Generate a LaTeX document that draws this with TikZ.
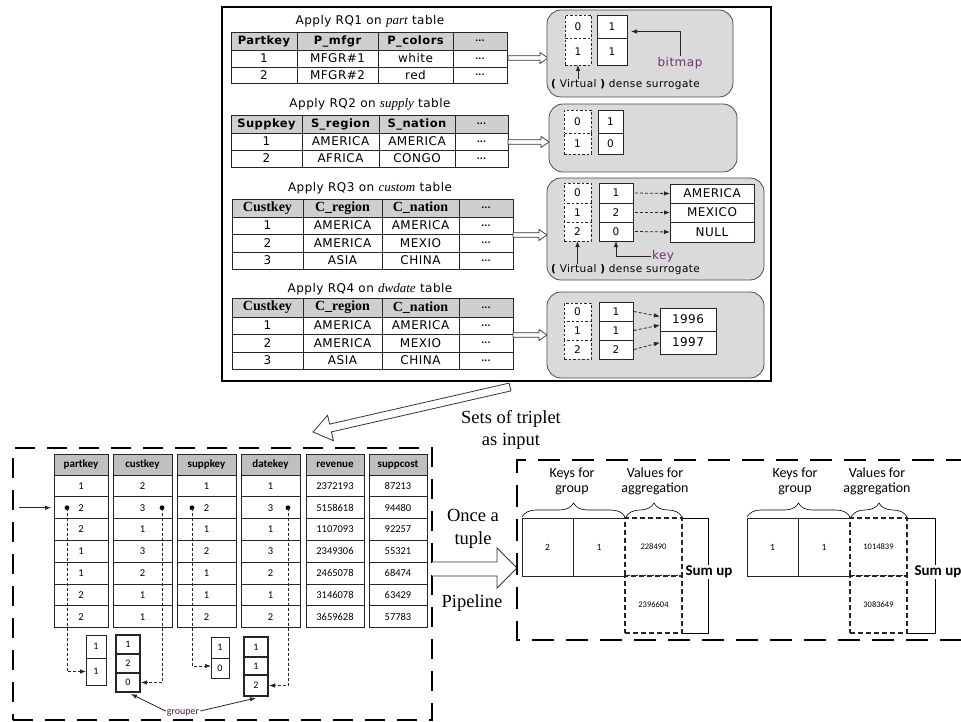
\documentclass[tikz,border=0pt]{standalone}
\usepackage{fontspec}
\setmainfont{Liberation Serif}
\newfontfamily\dv[LetterSpace=4]{DejaVu Sans}
\newfontfamily\dvn{DejaVu Sans}
\newfontfamily\cb{Carlito}
\newfontfamily\tms{Liberation Serif}
\usetikzlibrary{arrows.meta,decorations.pathreplacing}
\definecolor{hdr}{HTML}{CFCFCF}
\definecolor{hdrb}{HTML}{BFBFBF}
\definecolor{boxfill}{HTML}{DADADA}
\definecolor{purp}{HTML}{7A2C78}
\newcommand{\fs}[1]{\fontsize{#1}{#1}\selectfont}
\newcommand{\fsb}[2]{\fontsize{#1}{#2}\selectfont}
\newcommand{\dd}{{\dvn\bfseries\fs{8}...}}
\newcommand{\mycell}[7][]{\node[cellbase,#1,minimum width={#5-#3},minimum height={#6-#4}] (#2) at ({(#3+#5)/2},{(#4+#6)/2}) {#7};}
\newcommand{\trow}[8]{%
\mycell[#1]{#2a}{\cA}{#3}{\cB}{#4}{#5}%
\mycell[#1]{#2b}{\cB}{#3}{\cC}{#4}{#6}%
\mycell[#1]{#2c}{\cC}{#3}{\cD}{#4}{#7}%
\mycell[#1]{#2d}{\cD}{#3}{\cE}{#4}{#8}}
\newcommand{\harrow}[3]{\draw[hollow] ({#1},{#3-2.3}) -- ({#2-8},{#3-2.3}) -- ({#2-8},{#3-5.5}) -- ({#2},{#3}) -- ({#2-8},{#3+5.5}) -- ({#2-8},{#3+2.3}) -- ({#1},{#3+2.3}) -- cycle;}
\begin{document}
\begin{tikzpicture}[x=1pt,y=-1pt,
  cellbase/.style={draw=black!85, inner sep=0pt, outer sep=0pt, line width=0.7pt},
  hcell/.style={fill=hdr, font=\dv\bfseries\fs{11.5}},
  tcell/.style={fill=white, font=\dv\fs{12}},
  shcell/.style={fill=hdr, font=\tms\bfseries\fs{14}},
  ttl/.style={font=\dv\fs{12}, inner sep=1pt},
  gbox/.style={fill=boxfill, draw=black!70, rounded corners=14pt, line width=0.8pt},
  dcell/.style={fill=white, dash pattern=on 2.5pt off 2pt, font=\dvn\fs{10.5}},
  wcell/.style={fill=white, font=\dvn\fs{10.5}},
  ncell/.style={fill=white, font=\dv\fs{12}},
  lbl/.style={font=\dv\fs{10.5}, inner sep=1pt},
  arr/.style={-{Latex[length=6pt,width=4.5pt]}, line width=0.8pt, draw=black!85},
  darr/.style={arr, dash pattern=on 3pt off 2pt},
  hollow/.style={draw=black!80, fill=white, line width=0.7pt},
  outer/.style={draw=black, line width=1.3pt},
  bigframe/.style={draw=black, line width=2.8pt, dash pattern=on 20pt off 12pt},
  bigdash/.style={draw=black, line width=2.8pt, dash pattern=on 22pt off 12pt},
  bhcell/.style={fill=hdrb, font=\cb\bfseries\fs{11}},
  bcell/.style={fill=white, font=\cb\fs{10.5}},
  sbox/.style={fill=white, font=\cb\fs{10}},
  tbox/.style={fill=white, line width=1.6pt, font=\cb\fs{10}},
  rcell/.style={fill=white, line width=0.6pt, font=\cb\fs{9.5}},
  vcell/.style={fill=white, line width=1.3pt, dash pattern=on 5pt off 3pt, font=\cb\fs{8.5}},
  rtxt/.style={font=\cb\fsb{14}{15}, align=center, inner sep=0pt},
  sumtxt/.style={font=\cb\bfseries\fs{15}, fill=white, inner sep=1pt},
  brc/.style={decorate, decoration={brace, amplitude=14pt}, line width=0.6pt},
  serif/.style={font=\tms\fsb{18.5}{22.5}, align=center, inner sep=0pt}
]
\useasboundingbox (0,0) rectangle (961,722);
\clip (0,0) rectangle (961,722);
\fill[white] (0,0) rectangle (961,722);

% ---------------- top panel ----------------
\mycell[outer]{top}{222}{7}{771}{381}{}

% table 1
\def\cA{231}\def\cB{297}\def\cC{378}\def\cD{453}\def\cE{507}
\node[ttl] (t1t) at (370,21) {Apply RQ1 on {\tms\itshape\fs{13}part} table};
\trow{hcell}{t1h}{32}{50}{Partkey}{P\_mfgr}{P\_colors}{\dd}
\trow{tcell}{t1r}{50}{67}{1}{MFGR\#1}{white}{\dd}
\trow{tcell}{t1s}{67}{83}{2}{MFGR\#2}{red}{\dd}

% table 2
\def\cA{231}\def\cB{302}\def\cC{379}\def\cD{455}\def\cE{508}
\node[ttl] (t2t) at (370,104) {Apply RQ2 on {\tms\itshape\fs{13}supply} table};
\trow{hcell}{t2h}{115}{133}{Suppkey}{S\_region}{S\_nation}{\dd}
\trow{tcell}{t2r}{133}{150}{1}{AMERICA}{AMERICA}{\dd}
\trow{tcell}{t2s}{150}{167}{2}{AFRICA}{CONGO}{\dd}

% table 3
\def\cA{232}\def\cB{303}\def\cC{382}\def\cD{459}\def\cE{513}
\node[ttl] (t3t) at (370,188) {Apply RQ3 on {\tms\itshape\fs{13}custom} table};
\trow{shcell}{t3h}{199}{217}{Custkey}{C\_region}{C\_nation}{\dd}
\trow{tcell}{t3r}{217}{234}{1}{AMERICA}{AMERICA}{\dd}
\trow{tcell}{t3s}{234}{252}{2}{AMERICA}{MEXIO}{\dd}
\trow{tcell}{t3u}{252}{269}{3}{ASIA}{CHINA}{\dd}

% table 4
\node[ttl] (t4t) at (370,289) {Apply RQ4 on {\tms\itshape\fs{13}dwdate} table};
\trow{shcell}{t4h}{298}{317}{Custkey}{C\_region}{C\_nation}{\dd}
\trow{tcell}{t4r}{317}{334}{1}{AMERICA}{AMERICA}{\dd}
\trow{tcell}{t4s}{334}{352}{2}{AMERICA}{MEXIO}{\dd}
\trow{tcell}{t4u}{352}{369}{3}{ASIA}{CHINA}{\dd}

% hollow arrows to the boxes
\harrow{508}{548}{58}
\harrow{508}{549}{142}
\harrow{513}{547}{235}
\harrow{513}{547}{335}

% box 1
\mycell[gbox]{b1}{547}{10}{733}{97}{}
\mycell[dcell]{b1v0}{565}{15}{591}{38}{0}
\mycell[dcell]{b1v1}{565}{38}{591}{65}{1}
\mycell[wcell]{b1s0}{597}{15}{627}{38}{1}
\mycell[wcell]{b1s1}{597}{38}{627}{65}{1}
\node[lbl, text=purp, font=\dv\fs{12}] (bm) at (680,63) {bitmap};
\draw[arr] (bm.north) |- ([xshift=4pt,yshift=-5pt]b1s0.east);
\node[lbl, anchor=west] (v1) at (550,85) {{\bfseries(} Virtual {\bfseries)} dense surrogate};
\draw[arr] (b1v1.south |- v1.north) -- (b1v1.south);

% box 2
\mycell[gbox]{b2}{549}{104}{737}{172}{}
\mycell[dcell]{b2v0}{564}{110}{591}{133}{0}
\mycell[dcell]{b2v1}{564}{133}{591}{154}{1}
\mycell[wcell]{b2s0}{598}{110}{623}{133}{1}
\mycell[wcell]{b2s1}{598}{133}{623}{154}{0}

% box 3
\mycell[gbox]{b3}{547}{178}{764}{280}{}
\mycell[dcell]{b3v0}{564}{183}{591}{203}{0}
\mycell[dcell]{b3v1}{564}{203}{591}{222}{1}
\mycell[dcell]{b3v2}{564}{222}{591}{241}{2}
\mycell[wcell]{b3s0}{599}{183}{633}{203}{1}
\mycell[wcell]{b3s1}{599}{203}{633}{222}{2}
\mycell[wcell]{b3s2}{599}{222}{633}{241}{0}
\mycell[ncell]{b3t0}{670}{184}{754}{203}{AMERICA}
\mycell[ncell]{b3t1}{670}{203}{754}{222}{MEXICO}
\mycell[ncell]{b3t2}{670}{222}{754}{242}{NULL}
\draw[darr] ([xshift=2pt]b3s0.east) -- (b3t0.west);
\draw[darr] ([xshift=2pt]b3s1.east) -- (b3t1.west);
\draw[darr] ([xshift=2pt]b3s2.east) -- (b3t2.west);
\node[lbl, text=purp, font=\dv\fs{12}] (key) at (663,256) {key};
\draw[arr] (key.west) -| (b3s2.south);
\node[lbl, anchor=west] (v3) at (550,270) {{\bfseries(} Virtual {\bfseries)} dense surrogate};
\draw[arr] (b3v2.south |- v3.north) -- (b3v2.south);

% box 4
\mycell[gbox]{b4}{547}{292}{764}{378}{}
\mycell[dcell]{b4v0}{564}{303}{591}{321}{0}
\mycell[dcell]{b4v1}{564}{321}{591}{340}{1}
\mycell[dcell]{b4v2}{564}{340}{591}{359}{2}
\mycell[wcell]{b4s0}{599}{302}{633}{321}{1}
\mycell[wcell]{b4s1}{599}{321}{633}{340}{1}
\mycell[wcell]{b4s2}{599}{340}{633}{359}{2}
\mycell[ncell]{b4t0}{660}{308}{716}{331}{1996}
\mycell[ncell]{b4t1}{660}{331}{716}{354}{1997}
\draw[darr] ([xshift=1pt]b4s0.east) -- ([yshift=3pt]b4t0.west);
\draw[darr] ([xshift=1pt]b4s1.east) -- ([yshift=-5.5pt]b4t0.west);
\draw[darr] ([xshift=1pt]b4s2.east) -- (b4t1.west);

% big diagonal hollow arrow
\draw[hollow, line width=0.8pt] (509.1,383.1) -- (329.6,424.1) -- (327.6,415.3) -- (313,432) -- (333.4,440.7) -- (331.4,431.9) -- (510.9,390.9) -- cycle;
\node[serif] (sets) at (511,430) {Sets of triplet\\as input};

% ---------------- bottom-left panel ----------------
\mycell[bigframe]{lbox}{13}{448}{432}{720}{}
\foreach \nm/\xa/\xb/\hd/\vals in {pk/54/108/partkey/{1,2,2,1,1,2,2}, ck/113/172/custkey/{2,3,1,3,2,1,1}, sk/177/236/suppkey/{1,2,1,2,1,1,2}, dk/241/300/datekey/{1,3,1,3,2,1,2}, rv/306/364/revenue/{2372193,5158618,1107093,2349306,2465078,3146078,3659628}, sc/369/427/suppcost/{87213,94480,92257,55321,68474,63429,57783}}{
  \mycell[bhcell]{\nm h}{\xa}{454}{\xb}{475}{\hd}
  \foreach \v [count=\i] in \vals {
    \pgfmathsetmacro\ya{475+(\i-1)*21.8}
    \pgfmathsetmacro\yb{475+\i*21.8}
    \mycell[bcell]{\nm\i}{\xa}{\ya}{\xb}{\yb}{\v}
  }
}
\coordinate (pkd) at (67,507.7);
\coordinate (ckd) at (162,507.7);
\coordinate (skd) at (192,507.7);
\coordinate (dkd) at (288,507.7);
\foreach \c in {pkd,ckd,skd,dkd} {\fill (\c) circle (2.4);}
\coordinate (inarr) at (19,507.7);
\draw[arr] (inarr) -- ([xshift=-3pt]pk2.west);

% small result boxes
\mycell[sbox]{pkb1}{86}{635}{106}{658}{1}
\mycell[sbox]{pkb2}{86}{658}{106}{685}{1}
\mycell[tbox]{ckb1}{116}{635}{140}{654}{1}
\mycell[tbox]{ckb2}{116}{654}{140}{673}{2}
\mycell[tbox]{ckb3}{116}{673}{140}{692}{0}
\mycell[sbox]{skb1}{211}{637}{229}{658}{1}
\mycell[sbox]{skb2}{211}{658}{229}{678}{0}
\mycell[tbox]{dkb1}{244}{637}{268}{657}{1}
\mycell[tbox]{dkb2}{244}{657}{268}{675}{1}
\mycell[tbox]{dkb3}{244}{675}{268}{696}{2}
\draw[darr] (pkd) |- (pkb2.west);
\draw[darr] (ckd) |- ([xshift=1pt]ckb3.east);
\draw[darr] (skd) |- ([yshift=2pt]skb2.west);
\draw[darr] (dkd) |- ([xshift=1pt]dkb3.east);
\node[font=\cb\fs{10}, inner sep=1pt, text=purp!60!black] (grp) at (183,713) {grouper};
\draw[arr] ([yshift=2pt]grp.west) -- ([xshift=3pt,yshift=-2pt]ckb3.south);
\draw[arr] ([yshift=2pt]grp.east) -- ([yshift=-2pt]dkb3.south);

% pipeline arrow
\draw[hollow, line width=0.8pt] (432,562) -- (497,562) -- (497,548) -- (517,568) -- (497,588) -- (497,576) -- (432,576);
\node[serif] (once) at (473,529) {Once a\\tuple};
\node[serif] (pipe) at (472,603) {Pipeline};

% ---------------- bottom-right panel ----------------
\draw[bigdash] (968,460) -- (517,460) -- (517,640) -- (968,640);

% group 1
\mycell[rcell]{g1k1}{522}{518}{573}{576}{2}
\mycell[rcell]{g1k2}{573}{518}{625}{576}{1}
\draw[line width=0.6pt] (682,518) -- ++(26,0) |- (682,633);
\mycell[vcell]{g1v1}{625}{518}{682}{576}{228490}
\mycell[vcell]{g1v2}{625}{576}{682}{633}{2396604}
\draw[brc] ([yshift=1pt]g1k1.north west) -- ([yshift=1pt]g1k2.north east);
\draw[brc] ([xshift=1pt,yshift=1pt]g1v1.north west) -- ([yshift=1pt]g1v1.north east);
\node[rtxt] (g1kt) at (572,481) {Keys for\\group};
\node[rtxt] (g1vt) at (655,481) {Values for\\aggregation};
\node[sumtxt] (g1s) at (709,572) {Sum up};

% group 2
\mycell[rcell]{g2k1}{747}{518}{798}{576}{1}
\mycell[rcell]{g2k2}{798}{518}{850}{576}{1}
\draw[line width=0.6pt] (907,518) -- ++(28,0) |- (907,633);
\mycell[vcell]{g2v1}{850}{518}{907}{576}{1014839}
\mycell[vcell]{g2v2}{850}{576}{907}{633}{3083649}
\draw[brc] ([yshift=1pt]g2k1.north west) -- ([yshift=1pt]g2k2.north east);
\draw[brc] ([xshift=1pt,yshift=1pt]g2v1.north west) -- ([yshift=1pt]g2v1.north east);
\node[rtxt] (g2kt) at (795,481) {Keys for\\group};
\node[rtxt] (g2vt) at (877,481) {Values for\\aggregation};
\node[sumtxt] (g2s) at (938,572) {Sum up};
\end{tikzpicture}
\end{document}
